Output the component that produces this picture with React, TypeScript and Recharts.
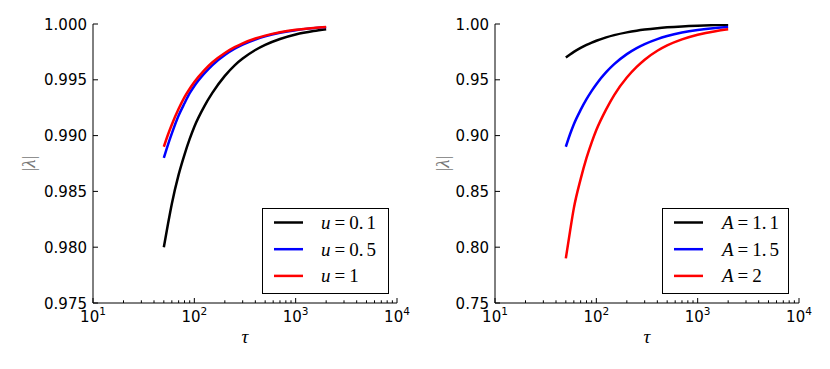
import { LineChart, Line, XAxis, YAxis, Legend, Label } from "recharts";

// tau sample points (log x axis)
const TAU = [50, 55, 60, 70, 80, 90, 100, 125, 150, 200, 250, 300, 400, 500, 700, 1000, 1500, 2000];

// panel a: |lambda| for u = 0.1, 0.5, 1
const LAMBDA_U01 = [0.98, 0.9821, 0.9839, 0.9865, 0.9883, 0.9897, 0.9908, 0.9926, 0.9938, 0.99535, 0.9963, 0.9969, 0.99767, 0.99813, 0.99866, 0.99906, 0.99937, 0.99953];
const LAMBDA_U05 = [0.988, 0.9892, 0.9902, 0.9918, 0.9929, 0.9938, 0.99445, 0.99555, 0.9963, 0.99722, 0.99778, 0.99815, 0.99861, 0.99889, 0.99921, 0.99945, 0.99963, 0.99972];
const LAMBDA_U1 = [0.989, 0.9901, 0.991, 0.9924, 0.99345, 0.9942, 0.9948, 0.99585, 0.99655, 0.9974, 0.99792, 0.99827, 0.9987, 0.99896, 0.99926, 0.99948, 0.99965, 0.99974];

// panel b: |lambda| for A = 1.1, 1.5, 2
const LAMBDA_A11 = [0.97, 0.9727, 0.975, 0.97857, 0.98125, 0.98333, 0.985, 0.988, 0.99, 0.9925, 0.994, 0.995, 0.99625, 0.997, 0.99786, 0.9985, 0.999, 0.99925];
const LAMBDA_A15 = [0.89, 0.9012, 0.9102, 0.923, 0.9326, 0.9401, 0.9461, 0.9568, 0.964, 0.973, 0.9784, 0.982, 0.9865, 0.9892, 0.9923, 0.9946, 0.9964, 0.9973];
const LAMBDA_A2 = [0.79, 0.8142, 0.835, 0.861, 0.88, 0.894, 0.905, 0.9235, 0.9363, 0.952, 0.9615, 0.968, 0.976, 0.9808, 0.9862, 0.9904, 0.9936, 0.9952];

const X_TICKS = [10, 20, 30, 40, 50, 60, 70, 80, 90, 100, 200, 300, 400, 500, 600, 700, 800, 900, 1000, 2000, 3000, 4000, 5000, 6000, 7000, 8000, 9000, 10000];
const Y_TICKS_A = [0.975, 0.98, 0.985, 0.99, 0.995, 1.0];
const Y_TICKS_B = [0.75, 0.8, 0.85, 0.9, 0.95, 1.0];

const U_VALUES = ["0.1", "0.5", "1"];
const A_VALUES = ["1.1", "1.5", "2"];
const COLORS = ["#000000", "#0000ff", "#ff0000"];

const dataA = TAU.map((t, i) => ({ tau: t, s0: LAMBDA_U01[i], s1: LAMBDA_U05[i], s2: LAMBDA_U1[i] }));
const dataB = TAU.map((t, i) => ({ tau: t, s0: LAMBDA_A11[i], s1: LAMBDA_A15[i], s2: LAMBDA_A2[i] }));

const SANS = "DejaVu Sans";
const SERIF = "Liberation Serif";

function isMajor(v: number) {
  const e = Math.round(Math.log10(v));
  return Math.abs(Math.pow(10, e) - v) < 1e-6;
}

function BottomTick({ x, y, payload }: any) {
  const v = payload.value;
  const major = isMajor(v);
  return (
    <g>
      <line x1={x} x2={x} y1={y} y2={y - (major ? 5 : 2.7)} stroke="#000" />
      {major && (
        <text x={x} y={y + 19} textAnchor="middle" fontSize={15} fontFamily={SANS} fill="#000">
          10<tspan dy={-7} fontSize={10.5}>{Math.round(Math.log10(v))}</tspan>
        </text>
      )}
    </g>
  );
}

function TopTick({ x, y, payload }: any) {
  const major = isMajor(payload.value);
  return <line x1={x} x2={x} y1={y} y2={y + (major ? 5 : 2.7)} stroke="#000" />;
}

function makeLeftTick(digits: number) {
  return ({ x, y, payload }: any) => (
    <g>
      <line x1={x} x2={x + 5} y1={y} y2={y} stroke="#000" />
      <text x={x - 6} y={y + 5.5} textAnchor="end" fontSize={15} fontFamily={SANS} fill="#000">
        {payload.value.toFixed(digits)}
      </text>
    </g>
  );
}

function RightTick({ x, y }: any) {
  return <line x1={x} x2={x - 5} y1={y} y2={y} stroke="#000" />;
}

function LegendBox({ payload, symbol, textX }: any) {
  return (
    <svg width={127} height={86} style={{ display: "block" }}>
      <rect x={0.5} y={0.5} width={126} height={85} fill="#fff" stroke="#000" />
      {(payload || []).map((p: any, i: number) => {
        const cy = 14.5 + i * 26.7;
        const parts = String(p.value).split(".");
        return (
          <g key={i}>
            <line x1={12} x2={41} y1={cy} y2={cy} stroke={p.color} strokeWidth={2.5} />
            <text x={textX} y={cy + 6.5} fontFamily={SERIF} fontSize={19} fill="#000">
              <tspan fontStyle="italic">{symbol}</tspan>
              <tspan dx={4}>=</tspan>
              <tspan dx={4}>{parts.length > 1 ? parts[0] + "." : parts[0]}</tspan>
              {parts.length > 1 && <tspan dx={3}>{parts[1]}</tspan>}
            </text>
          </g>
        );
      })}
    </svg>
  );
}

interface PanelProps {
  letter: string;
  data: any[];
  values: string[];
  symbol: string;
  yTicks: number[];
  yDigits: number;
  marginLeft: number;
  marginRight: number;
  ylabelOffset: number;
  legendLeft: number;
  legendTextX: number;
}

function Panel(p: PanelProps) {
  const LeftTick = makeLeftTick(p.yDigits);
  const yDomain = [p.yTicks[0], p.yTicks[p.yTicks.length - 1]];
  return (
    <LineChart
      width={415}
      height={369}
      data={p.data}
      margin={{ top: 24, right: p.marginRight, bottom: 36, left: p.marginLeft }}
    >
      <XAxis
        dataKey="tau"
        type="number"
        scale="log"
        domain={[10, 10000]}
        allowDataOverflow
        ticks={X_TICKS}
        interval={0}
        height={30}
        tickSize={0}
        tickMargin={0}
        tick={BottomTick}
        axisLine={{ stroke: "#000" }}
        tickLine={false}
      >
        <Label
          content={({ viewBox }: any) => (
            <text
              x={viewBox.x + viewBox.width / 2}
              y={viewBox.y + 40}
              textAnchor="middle"
              fontFamily={SERIF}
              fontStyle="italic"
              fontSize={19}
              fill="#000"
            >
              τ
            </text>
          )}
        />
      </XAxis>
      <XAxis
        xAxisId="top"
        orientation="top"
        dataKey="tau"
        type="number"
        scale="log"
        domain={[10, 10000]}
        allowDataOverflow
        ticks={X_TICKS}
        interval={0}
        height={0}
        tickSize={0}
        tickMargin={0}
        tick={TopTick}
        axisLine={{ stroke: "#000" }}
        tickLine={false}
      >
        <Label
          content={({ viewBox }: any) => (
            <text x={viewBox.x + 13} y={viewBox.y - 8} fontFamily={SANS} fontWeight="bold" fontSize={15} fill="#000">
              {p.letter}
            </text>
          )}
        />
      </XAxis>
      <YAxis
        type="number"
        domain={yDomain}
        allowDataOverflow
        ticks={p.yTicks}
        interval={0}
        width={60}
        tickSize={0}
        tickMargin={0}
        tick={LeftTick}
        axisLine={{ stroke: "#000" }}
        tickLine={false}
      >
        <Label
          content={({ viewBox }: any) => {
            const cx = viewBox.x + viewBox.width - p.ylabelOffset;
            const cy = viewBox.y + viewBox.height / 2;
            return (
              <text
                x={cx}
                y={cy}
                transform={`rotate(-90 ${cx} ${cy})`}
                textAnchor="middle"
                dominantBaseline="central"
                fontFamily={SERIF}
                fontSize={19}
                fill="#777"
              >
                |<tspan fontStyle="italic">λ</tspan>|
              </text>
            );
          }}
        />
      </YAxis>
      <YAxis
        yAxisId="right"
        orientation="right"
        type="number"
        domain={yDomain}
        allowDataOverflow
        ticks={p.yTicks}
        interval={0}
        width={0}
        tickSize={0}
        tickMargin={0}
        tick={RightTick}
        axisLine={{ stroke: "#000" }}
        tickLine={false}
      />
      <Legend
        layout="horizontal"
        verticalAlign="middle"
        align="center"
        wrapperStyle={{ left: p.legendLeft, top: 208, width: 127, height: 86 }}
        content={(props: any) => <LegendBox payload={props.payload} symbol={p.symbol} textX={p.legendTextX} />}
      />
      {p.values.map((v, i) => (
        <Line
          key={v}
          dataKey={`s${i}`}
          name={v}
          type="monotone"
          stroke={COLORS[i]}
          strokeWidth={2.5}
          dot={false}
          activeDot={false}
          isAnimationActive={false}
        />
      ))}
    </LineChart>
  );
}

export default function App() {
  return (
    <div style={{ position: "absolute", left: 0, top: 0, width: 830, height: 369, background: "#fff" }}>
      <div style={{ position: "absolute", left: 0, top: 0 }}>
        <Panel
          letter="a"
          data={dataA}
          values={U_VALUES}
          symbol="u"
          yTicks={Y_TICKS_A}
          yDigits={3}
          marginLeft={33}
          marginRight={18}
          ylabelOffset={65}
          legendLeft={262}
          legendTextX={59}
        />
      </div>
      <div style={{ position: "absolute", left: 415, top: 0 }}>
        <Panel
          letter="b"
          data={dataB}
          values={A_VALUES}
          symbol="A"
          yTicks={Y_TICKS_B}
          yDigits={2}
          marginLeft={20}
          marginRight={31}
          ylabelOffset={53}
          legendLeft={247}
          legendTextX={60}
        />
      </div>
    </div>
  );
}
